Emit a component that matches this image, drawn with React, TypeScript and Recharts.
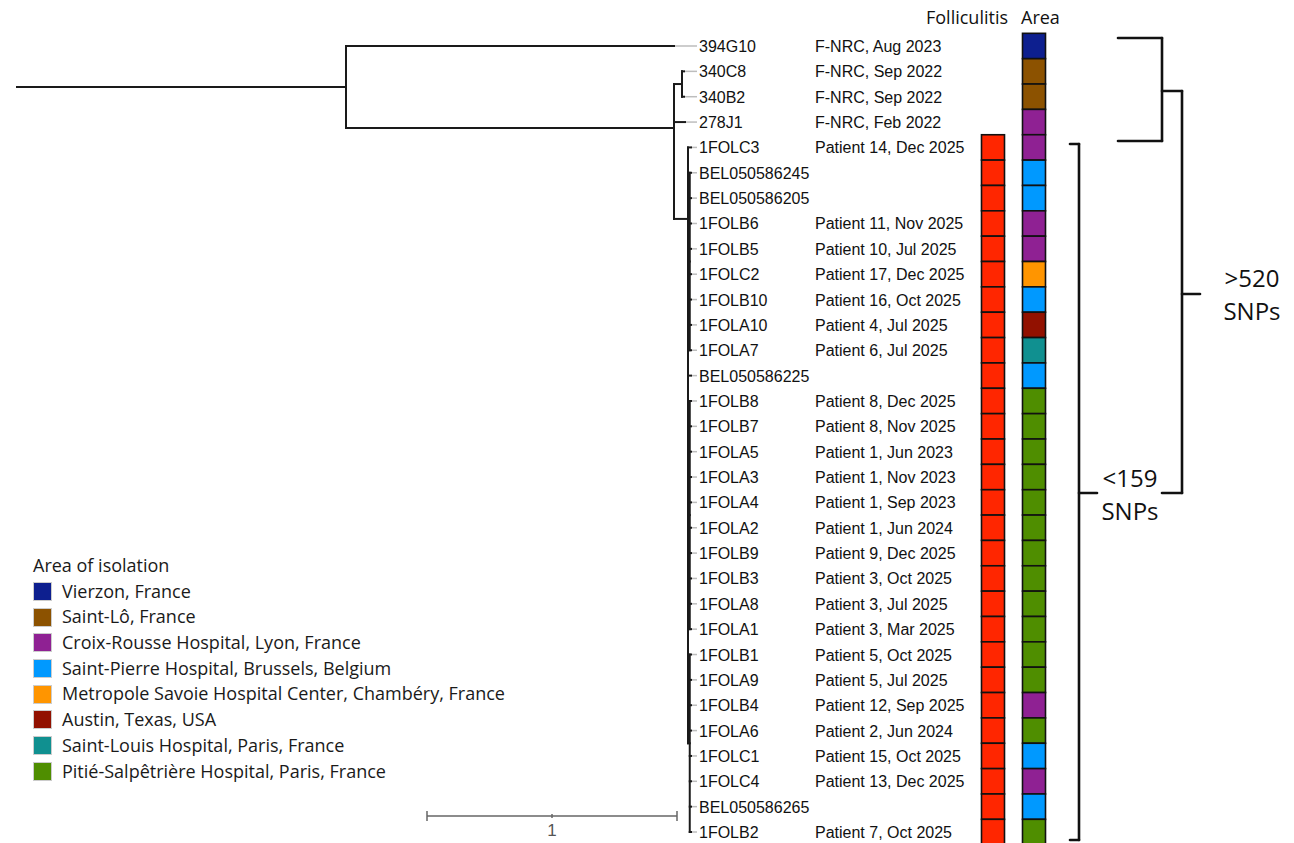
import React from "react";
import {
  ComposedChart,
  XAxis,
  YAxis,
  Scatter,
  ReferenceLine,
  ReferenceDot,
  Legend,
} from "recharts";

// ---- tips (top to bottom) ----
const tipNames = [
  "394G10", "340C8", "340B2", "278J1", "1FOLC3", "BEL050586245", "BEL050586205",
  "1FOLB6", "1FOLB5", "1FOLC2", "1FOLB10", "1FOLA10", "1FOLA7", "BEL050586225",
  "1FOLB8", "1FOLB7", "1FOLA5", "1FOLA3", "1FOLA4", "1FOLA2", "1FOLB9", "1FOLB3",
  "1FOLA8", "1FOLA1", "1FOLB1", "1FOLA9", "1FOLB4", "1FOLA6", "1FOLC1", "1FOLC4",
  "BEL050586265", "1FOLB2",
];

const tipSources = [
  "F-NRC, Aug 2023", "F-NRC, Sep 2022", "F-NRC, Sep 2022", "F-NRC, Feb 2022",
  "Patient 14, Dec 2025", "", "", "Patient 11, Nov 2025", "Patient 10, Jul 2025",
  "Patient 17, Dec 2025", "Patient 16, Oct 2025", "Patient 4, Jul 2025",
  "Patient 6, Jul 2025", "", "Patient 8, Dec 2025", "Patient 8, Nov 2025",
  "Patient 1, Jun 2023", "Patient 1, Nov 2023", "Patient 1, Sep 2023",
  "Patient 1, Jun 2024", "Patient 9, Dec 2025", "Patient 3, Oct 2025",
  "Patient 3, Jul 2025", "Patient 3, Mar 2025", "Patient 5, Oct 2025",
  "Patient 5, Jul 2025", "Patient 12, Sep 2025", "Patient 2, Jun 2024",
  "Patient 15, Oct 2025", "Patient 13, Dec 2025", "", "Patient 7, Oct 2025",
];

const tipFolliculitis = [
  false, false, false, false, true, true, true, true, true, true, true, true, true,
  true, true, true, true, true, true, true, true, true, true, true, true, true, true,
  true, true, true, true, true,
];

const tipArea = [
  0, 1, 1, 2, 2, 3, 3, 2, 2, 4, 3, 5, 6, 3, 7, 7, 7, 7, 7, 7, 7, 7, 7, 7, 7, 7, 2, 7,
  3, 2, 3, 7,
];

const areaNames = [
  "Vierzon, France",
  "Saint-Lô, France",
  "Croix-Rousse Hospital, Lyon, France",
  "Saint-Pierre Hospital, Brussels, Belgium",
  "Metropole Savoie Hospital Center, Chambéry, France",
  "Austin, Texas, USA",
  "Saint-Louis Hospital, Paris, France",
  "Pitié-Salpêtrière Hospital, Paris, France",
];
const areaColors = [
  "#0d1f8f", "#8c5200", "#8f2193", "#0099ff", "#ff9500", "#921100", "#109090", "#4f8e00",
];

// ---- tree (distances in substitutions/site units, rows = tip index) ----
const nodeNames = ["root", "n1", "n2", "n340", "nFol", "nFolA", "nFolB", "nFolC"];
const nodeParent = [null, "root", "n1", "n2", "n2", "nFol", "nFol", "nFol"];
const nodeDist = [0, 1.316, 2.628, 2.66, 2.684, 2.691, 2.691, 2.691];
const nodeRow = [1.62, 1.62, 3.23, 1.5, 6.82, 8.5, 18.5, 27.5];

const tipParent = [
  "n1", "n340", "n340", "n2", "nFol",
  "nFolA", "nFolA", "nFolA", "nFolA", "nFolA", "nFolA", "nFolA", "nFolA",
  "nFol",
  "nFolB", "nFolB", "nFolB", "nFolB", "nFolB", "nFolB", "nFolB", "nFolB", "nFolB", "nFolB",
  "nFolC", "nFolC", "nFolC", "nFolC", "nFolC", "nFolC", "nFolC", "nFolC",
];
const tipDist = [
  2.628, 2.668, 2.668, 2.672,
  2.696, 2.696, 2.696, 2.696, 2.696, 2.696, 2.696, 2.696, 2.696, 2.696, 2.696, 2.696,
  2.696, 2.696, 2.696, 2.696, 2.696, 2.696, 2.696, 2.696, 2.696, 2.696, 2.696, 2.696,
  2.696, 2.696, 2.696, 2.696,
];
const LEADER_END = 2.72;
const SCALE_BAR_START = 1.64;
const SCALE_BAR_LEN = 1;

// ---- layout ----
const W = 1294;
const H = 843;
const ROW_TOP = 46;
const ROW_STEP = 25.355;
const TREE_LEFT = 17;
const PX_PER_UNIT = 250;
const LABEL_X = 699;
const SOURCE_X = 815;
const FOL_X = 993;
const AREA_X = 1034;
const CELL_W = 23;

const treeDomain = [-TREE_LEFT / PX_PER_UNIT, (W - TREE_LEFT) / PX_PER_UNIT];
const rowDomain = [-ROW_TOP / ROW_STEP, (H - ROW_TOP) / ROW_STEP];
const rowAt = (y: number) => (y - ROW_TOP) / ROW_STEP;

const SANS = "'Liberation Sans', Arial, sans-serif";
const OPEN = "'Open Sans', 'Noto Sans', sans-serif";

type Seg = { x1: number; y1: number; x2: number; y2: number };

function buildTree(): Seg[] {
  const segs: Seg[] = [];
  const distOf = (n: string) => nodeDist[nodeNames.indexOf(n)];
  nodeNames.forEach((n, i) => {
    const p = nodeParent[i];
    if (p) segs.push({ x1: distOf(p), x2: nodeDist[i], y1: nodeRow[i], y2: nodeRow[i] });
  });
  tipNames.forEach((_, i) => {
    segs.push({ x1: distOf(tipParent[i]), x2: tipDist[i], y1: i, y2: i });
  });
  nodeNames.forEach((n, i) => {
    const rows: number[] = [];
    nodeNames.forEach((m, j) => nodeParent[j] === n && rows.push(nodeRow[j]));
    tipParent.forEach((m, j) => m === n && rows.push(j));
    if (rows.length === 0) return;
    const lo = Math.min(...rows, nodeRow[i]);
    const hi = Math.max(...rows, nodeRow[i]);
    if (hi > lo) segs.push({ x1: nodeDist[i], x2: nodeDist[i], y1: lo, y2: hi });
  });
  return segs;
}

const leaderSegs: Seg[] = tipNames.map((_, i) => ({
  x1: tipDist[i], x2: LEADER_END, y1: i, y2: i,
}));

// braces, as [x, y, x, y] in page pixels on the layout axis
const braceSegs: [number, number, number, number][] = [
  [1118, 38, 1162, 38], [1162, 38, 1162, 141], [1118, 141, 1162, 141], [1162, 91, 1182, 91],
  [1182, 91, 1182, 493], [1162, 493, 1182, 493], [1182, 294, 1200, 294],
  [1070, 144, 1079, 144], [1079, 144, 1079, 840], [1070, 840, 1079, 840], [1079, 493, 1097, 493],
];

const textDot = (txt: string, opts: any) => (p: any) => (
  <text
    x={p.cx}
    y={p.cy}
    textAnchor={opts.anchor ?? "start"}
    dominantBaseline="central"
    fontFamily={opts.font ?? OPEN}
    fontSize={opts.size}
    fill={opts.fill ?? "#111"}
  >
    {txt}
  </text>
);

function LegendBox() {
  return (
    <div style={{ fontFamily: OPEN, fontSize: 18, color: "#1a1a1a", lineHeight: "25.7px" }}>
      <div style={{ height: 25.7, whiteSpace: "nowrap" }}>Area of isolation</div>
      {areaNames.map((a, i) => (
        <div key={a} style={{ height: 25.7, display: "flex", alignItems: "center", whiteSpace: "nowrap" }}>
          <span
            style={{
              display: "inline-block",
              width: 17,
              height: 17,
              background: areaColors[i],
              border: "1px solid #ccc",
              marginRight: 10,
            }}
          />
          {a}
        </div>
      ))}
    </div>
  );
}

export default function App() {
  const treeSegs = buildTree();
  const labelData = tipNames.map((name, i) => ({ x: LABEL_X, row: i, name }));
  const sourceData = tipSources.map((s, i) => ({ x: SOURCE_X, row: i, name: s }));
  const folData = tipFolliculitis
    .map((f, i) => ({ x: FOL_X, row: i, f }))
    .filter((d) => d.f);
  const areaData = tipArea.map((a, i) => ({ x: AREA_X, row: i, color: areaColors[a] }));

  const cell = (fill: (p: any) => string) => (p: any) => (
    <rect
      x={p.cx - CELL_W / 2}
      y={p.cy - ROW_STEP / 2}
      width={CELL_W}
      height={ROW_STEP}
      fill={fill(p)}
      stroke="#111"
      strokeWidth={1.6}
    />
  );

  const textShape = (p: any) => (
    <text x={p.cx} y={p.cy + 6} fontFamily={SANS} fontSize={16} fill="#111">
      {p.payload.name}
    </text>
  );

  return (
    <div style={{ position: "absolute", left: 0, top: 0, background: "#fff" }}>
      <ComposedChart width={W} height={H} margin={{ top: 0, right: 0, bottom: 0, left: 0 }}>
        <XAxis xAxisId="tree" type="number" dataKey="x" domain={treeDomain} allowDataOverflow hide />
        <XAxis xAxisId="layout" type="number" dataKey="x" domain={[0, W]} allowDataOverflow hide />
        <YAxis type="number" dataKey="row" domain={rowDomain} allowDataOverflow reversed hide />

        {leaderSegs.map((s, i) => (
          <ReferenceLine
            key={"l" + i}
            xAxisId="tree"
            segment={[{ x: s.x1, y: s.y1 }, { x: s.x2, y: s.y2 }]}
            stroke="#bdbdbd"
            strokeWidth={1.5}
            ifOverflow="visible"
          />
        ))}
        {treeSegs.map((s, i) => (
          <ReferenceLine
            key={"t" + i}
            xAxisId="tree"
            segment={[{ x: s.x1, y: s.y1 }, { x: s.x2, y: s.y2 }]}
            stroke="#1a1a1a"
            strokeWidth={2}
            strokeLinecap="square"
            ifOverflow="visible"
          />
        ))}

        {/* scale bar */}
        <ReferenceLine
          xAxisId="tree"
          segment={[{ x: SCALE_BAR_START, y: rowAt(816) }, { x: SCALE_BAR_START + SCALE_BAR_LEN, y: rowAt(816) }]}
          stroke="#666"
          strokeWidth={1.5}
        />
        {[0, 0.5, 1].map((t) => (
          <ReferenceLine
            key={"sb" + t}
            xAxisId="tree"
            segment={[
              { x: SCALE_BAR_START + t * SCALE_BAR_LEN, y: rowAt(t === 0.5 ? 814 : 811) },
              { x: SCALE_BAR_START + t * SCALE_BAR_LEN, y: rowAt(t === 0.5 ? 818 : 821) },
            ]}
            stroke="#666"
            strokeWidth={1.5}
          />
        ))}
        <ReferenceDot
          xAxisId="tree"
          x={SCALE_BAR_START + SCALE_BAR_LEN / 2}
          y={rowAt(830)}
          r={0}
          shape={textDot("1", { anchor: "middle", size: 17, font: SANS, fill: "#555" })}
        />

        {/* braces */}
        {braceSegs.map(([x1, y1, x2, y2], i) => (
          <ReferenceLine
            key={"b" + i}
            xAxisId="layout"
            segment={[{ x: x1, y: rowAt(y1) }, { x: x2, y: rowAt(y2) }]}
            stroke="#111"
            strokeWidth={2.6}
            strokeLinecap="round"
          />
        ))}
        <ReferenceDot xAxisId="layout" x={1252} y={rowAt(277)} r={0} shape={textDot(">520", { anchor: "middle", size: 24 })} />
        <ReferenceDot xAxisId="layout" x={1252} y={rowAt(310)} r={0} shape={textDot("SNPs", { anchor: "middle", size: 24 })} />
        <ReferenceDot xAxisId="layout" x={1130} y={rowAt(477)} r={0} shape={textDot("<159", { anchor: "middle", size: 24 })} />
        <ReferenceDot xAxisId="layout" x={1130} y={rowAt(510)} r={0} shape={textDot("SNPs", { anchor: "middle", size: 24 })} />

        {/* column headers */}
        <ReferenceDot xAxisId="layout" x={926} y={rowAt(17)} r={0} shape={textDot("Folliculitis", { size: 18 })} />
        <ReferenceDot xAxisId="layout" x={1021} y={rowAt(17)} r={0} shape={textDot("Area", { size: 18 })} />

        <Scatter xAxisId="layout" data={labelData} isAnimationActive={false} shape={textShape} />
        <Scatter xAxisId="layout" data={sourceData} isAnimationActive={false} shape={textShape} />
        <Scatter xAxisId="layout" data={folData} isAnimationActive={false} shape={cell(() => "#ff2600")} />
        <Scatter xAxisId="layout" data={areaData} isAnimationActive={false} shape={cell((p) => p.payload.color)} />

        <Legend
          layout="vertical"
          align="center"
          verticalAlign="middle"
          wrapperStyle={{ left: 33, top: 553, width: 520, height: "auto" }}
          content={() => <LegendBox />}
        />
      </ComposedChart>
    </div>
  );
}
